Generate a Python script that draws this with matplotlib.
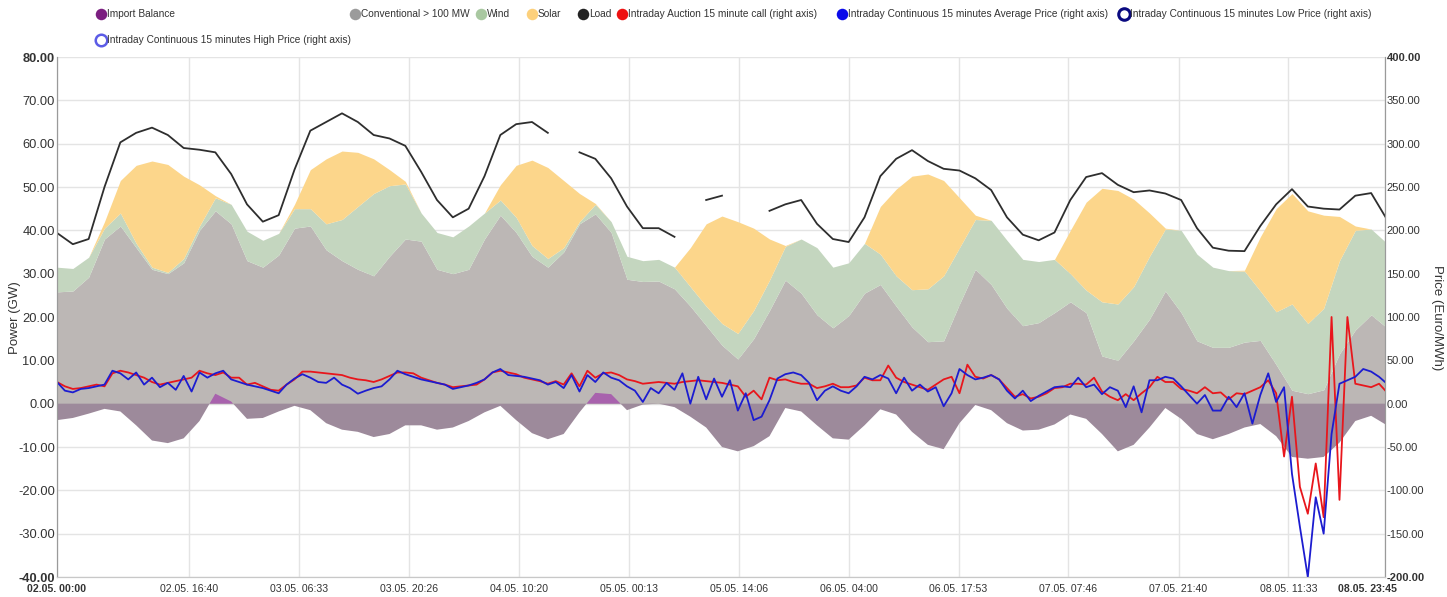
import numpy as np
import matplotlib
matplotlib.use("Agg")
import matplotlib.pyplot as plt
from matplotlib.lines import Line2D
from matplotlib.transforms import ScaledTranslation

nan = float("nan")

# ---------------- data ----------------
step_areas_h = 2.0   # sampling of power series (hours)
step_price_h = 1.0   # sampling of price series (hours)

conventional = [25.8, 26, 29.2, 38, 41, 36, 31, 30, 32.5, 40, 44.5, 41.5, 33, 31.5, 34.3, 40.5, 41, 35.5,
                33, 31, 29.5, 34, 38, 37.5, 31, 30, 31, 38, 43.5, 39.5, 34, 31.5, 35, 41.5, 43.8, 39.5,
                28.7, 28.2, 28.3, 26.5, 22.5, 18, 13.5, 10.3, 15, 21.5, 28.5, 25.5, 20.5, 17.5, 20.3, 25.5,
                27.5, 22.5, 17.7, 14.3, 14.5, 23, 31, 27.5, 22, 18, 18.7, 21, 23.5, 21, 11, 10, 14.5, 19.5,
                26, 21, 14.5, 13, 13, 14.2, 14.6, 9, 3.1, 2.3, 3.2, 11.5, 17, 20.5, 17.5]
wind = [5.7, 5.2, 4.6, 2.5, 3, 1, 0.5, 0.3, 1, 1, 3, 4.5, 6.8, 6.2, 5, 4.5, 4, 6, 9.5, 14.5, 19, 16.3,
        12.7, 6.5, 8.5, 8.5, 10, 6, 3.5, 3.5, 2.5, 2, 1, 0.5, 2.2, 2.5, 5.3, 4.8, 5, 5, 4.5, 4.5, 5, 5.9,
        6.5, 7, 7.8, 12.5, 15.5, 14, 12.2, 11.5, 7, 7, 8.6, 12.2, 15, 13, 11.5, 14.8, 15.7, 15.3, 14.1,
        12.3, 6.5, 5.2, 12.5, 13, 12.5, 14.5, 14.3, 19, 20, 18.5, 17.7, 16.4, 11.4, 12.2, 19.9, 16.2,
        18.8, 21.5, 23, 19.8, 19.5]
solar = [0, 0, 0, 1.5, 7.5, 18, 24.5, 24.9, 19, 9.5, 0.5, 0, 0, 0, 0, 1, 9, 15, 15.8, 12.5, 8, 3.7, 0.6,
         0, 0, 0, 0, 0, 3.5, 12, 19.7, 21, 15.5, 6.5, 0.2, 0, 0, 0, 0, 0, 9, 19, 24.8, 25.8, 19, 9.5, 0.2,
         0, 0, 0, 0, 0, 11, 20, 26.2, 26.5, 22, 11.5, 1, 0, 0, 0, 0, 0, 10, 20.3, 26.2, 26.2, 20.2, 10,
         0.2, 0, 0, 0, 0, 0.2, 12.5, 23.8, 25.5, 26, 21.5, 10.2, 1, 0, 0]
load = [39.4, 36.8, 38, 50, 60.3, 62.5, 63.7, 62, 59, 58.6, 58, 53, 46, 42, 43.5, 54, 63, 65, 67, 65, 62,
        61.2, 59.5, 53.5, 47, 43, 45, 52.5, 62, 64.5, 65, 62.5, nan, 58, 56.5, 52, 45.5, 40.5, 40.5,
        38.5, nan, 47, 48, nan, nan, 44.5, 46, 47, 41.5, 38, 37.3, 43, 52.5, 56.5, 58.5, 56, 54.2, 53.8,
        52, 49.3, 43, 39, 37.7, 39.5, 47, 52.3, 53.2, 50.5, 48.8, 49.2, 48.5, 47, 40.5, 36, 35.3, 35.2,
        41, 46, 49.5, 45.5, 45, 44.8, 48, 48.6, 42.5]
import_balance = [-3.8, -3.3, -2.3, -1.2, -1.8, -5, -8.5, -9.1, -8, -4, 2.3, 0.5, -3.5, -3.3, -1.8, -0.5,
                  -1.5, -4.5, -6, -6.5, -7.7, -7, -5, -5, -6, -5.5, -4, -2, -0.5, -3.8, -6.8, -8.2, -7, -2,
                  2.5, 2.2, -1.5, -0.2, 0, -0.8, -3, -5.5, -10, -11, -9.8, -7.5, -1, -1.8, -5, -8, -8.3,
                  -5, -1.3, -2.5, -6.5, -9.5, -10.5, -4.5, -0.3, -1.5, -4.5, -6.2, -6, -4.8, -2.5, -3.5,
                  -7, -11, -9.5, -5.5, -1, -3.5, -7, -8.2, -7, -5.5, -4.7, -7.5, -12.3, -12.7, -12.3, -9,
                  -4, -2.8, -5]

price_avg = [25, 15, 13, 17, 18, 20, 22, 38, 35, 28,
             36, 22, 30, 19, 24, 16, 32, 14, 36, 30,
             35, 38, 28, 25, 22, 20, 18, 15, 12, 22,
             29, 34, 30, 25, 24, 30, 22, 18, 11.5, 15,
             18, 20, 28, 38, 34, 31, 28, 26, 24, 22,
             17, 19, 21, 24, 28, 36, 40, 33, 32, 31,
             29, 27, 22, 25, 18, 33, 14, 33, 25, 36,
             30, 27, 20, 15, 2, 18, 12, 24, 16, 35,
             0, 31, 5, 29, 8, 27, -8, 12, -19, -15,
             4, 29, 34, 36, 33, 24, 4, 15, 20, 15,
             12, 20, 31, 28, 33, 29, 12, 30, 15, 22,
             14, 19, -3, 12, 40, 33, 28, 30, 33, 28,
             15, 6, 15, 3, 9, 14, 19, 20, 19, 30,
             19, 22, 11, 19, 15, -4, 20, -10, 27, 27,
             31, 29, 20, 10, 0, 10, -8, -8, 8, -4,
             12, -23, 10, 35, 2, 19, -81, -142, -200, -108,
             -150, -35, 23, 27, 31, 40, 37, 31, 23]
price_auction = [25, 20, 17, 18, 20, 22, 20, 35, 38, 36,
                 33, 30, 25, 22, 24, 26, 28, 30, 38, 35,
                 33, 36, 30, 30, 22, 24, 20, 16, 15, 22,
                 28, 37, 37, 36, 35, 34, 33, 30, 28, 27,
                 25, 28, 32, 36, 36, 35, 30, 27, 24, 22,
                 19, 20, 21, 22, 28, 36, 38, 36, 34, 30,
                 28, 26, 23, 26, 22, 35, 20, 38, 30, 35,
                 36, 33, 28, 26, 23, 24, 25, 24, 23, 25,
                 26, 27, 26, 25, 24, 22, 20, 8, 15, 5,
                 30, 27, 28, 25, 23, 23, 18, 20, 23, 19,
                 19, 21, 30, 27, 27, 44, 30, 25, 22, 19,
                 16, 22, 28, 31, 12, 45, 31, 29, 33, 28,
                 18, 8, 11, 6, 8, 12, 18, 19, 23, 23,
                 22, 30, 14, 8, 4, 11, 4, 12, 19, 31,
                 25, 25, 17, 15, 12, 19, 12, 13, 5, 12,
                 11, 15, 19, 27, 12, -61, 8, -96, -127, -69,
                 -131, 100, -111, 100, 23, 21, 19, 23, 13]

x_tick_labels = ["02.05. 00:00", "02.05. 16:40", "03.05. 06:33", "03.05. 20:26", "04.05. 10:20",
                 "05.05. 00:13", "05.05. 14:06", "06.05. 04:00", "06.05. 17:53", "07.05. 07:46",
                 "07.05. 21:40", "08.05. 11:33", "08.05. 23:45"]
left_ticks = [-40, -30, -20, -10, 0, 10, 20, 30, 40, 50, 60, 70, 80]
right_ticks = [-200, -150, -100, -50, 0, 50, 100, 150, 200, 250, 300, 350, 400]

legend_row1 = ["Import Balance", "Conventional > 100 MW", "Wind", "Solar", "Load",
               "Intraday Auction 15 minute call (right axis)",
               "Intraday Continuous 15 minutes Average Price (right axis)",
               "Intraday Continuous 15 minutes Low Price (right axis)"]
legend_row2 = ["Intraday Continuous 15 minutes High Price (right axis)"]

# ---------------- style ----------------
C_CONV = "#bcb7b5"
C_WIND = "#c4d6bf"
C_SOLAR = "#fcd68b"
C_IMP_NEG = "#9d8a9b"
C_IMP_POS = "#a862ad"
C_LOAD = "#2e2e2e"
C_RED = "#e8161c"
C_BLUE = "#1c1cd0"
GRID = "#e4e4e4"
TXT = "#333333"
plt.rcParams["font.family"] = ["Liberation Sans", "DejaVu Sans"]

W, H = 1447, 597
fig = plt.figure(figsize=(W / 100, H / 100), dpi=100)
L, R, T, B = 57, 1385, 57, 577
ax = fig.add_axes([L / W, 1 - B / H, (R - L) / W, (B - T) / H])

conv = np.array(conventional)
wnd = np.array(wind)
sol = np.array(solar)
imp = np.array(import_balance)
t_a = np.arange(len(conv)) * step_areas_h
t_p = np.arange(len(price_avg)) * step_price_h

ax.fill_between(t_a, 0, conv, color=C_CONV, lw=0)
ax.fill_between(t_a, conv, conv + wnd, color=C_WIND, lw=0)
ax.fill_between(t_a, conv + wnd, conv + wnd + sol, color=C_SOLAR, lw=0)
ax.fill_between(t_a, 0, imp, where=imp < 0, interpolate=True, color=C_IMP_NEG, lw=0)
ax.fill_between(t_a, 0, imp, where=imp > 0, interpolate=True, color=C_IMP_POS, lw=0)
ax.plot(t_a, load, color=C_LOAD, lw=1.3)


def to_hours(s):
    day = int(s[0:2])
    hh, mm = s.split()[1].split(":")
    return (day - 2) * 24 + int(hh) + int(mm) / 60.0


xt = [to_hours(s) for s in x_tick_labels]
ax.set_xlim(xt[0], xt[-1])
ax.set_ylim(left_ticks[0], left_ticks[-1])
ax.set_xticks(xt)
ax.set_xticklabels(x_tick_labels, fontsize=7.6, color=TXT)
ax.set_yticks(left_ticks)
ax.set_yticklabels([f"{v:.2f}" for v in left_ticks], fontsize=9.3, color=TXT)
ax.grid(True, color=GRID, lw=1)
ax.set_axisbelow(True)
ax.tick_params(axis="y", length=0, pad=1.5)
ax.tick_params(axis="x", length=0, pad=5)

ax2 = ax.twinx()
ax2.set_ylim(right_ticks[0], right_ticks[-1])
ax2.plot(t_p, price_auction, color=C_RED, lw=1.3)
ax2.plot(t_p, price_avg, color=C_BLUE, lw=1.3)
ax2.set_yticks(right_ticks)
ax2.set_yticklabels([f"{v:.2f}" for v in right_ticks], fontsize=8, color=TXT)
ax2.tick_params(axis="y", length=0, pad=1)

for a in (ax, ax2):
    a.spines["top"].set_visible(False)
    a.spines["left"].set_color("#9a9a9a")
    a.spines["right"].set_color("#9a9a9a")
    a.spines["bottom"].set_color("#c8c8c8")

for lbls in (ax.get_yticklabels(), ax2.get_yticklabels(), ax.get_xticklabels()):
    lbls[0].set_fontweight("bold")
    lbls[-1].set_fontweight("bold")
last = ax.get_xticklabels()[-1]
last.set_transform(last.get_transform() + ScaledTranslation(-0.18, 0, fig.dpi_scale_trans))

fig.text(15 / W, 1 - 318 / H, "Power (GW)", rotation=90, ha="center", va="center",
         fontsize=9.5, color=TXT)
fig.text(1437 / W, 1 - 318 / H, "Price (Euro/MWh)", rotation=-90, ha="center", va="center",
         fontsize=9.5, color=TXT)

# ---------------- legend (manual) ----------------
leg_style = [
    dict(mfc="#7b1f80", mec="#7b1f80"),
    dict(mfc="#9b9b9b", mec="#9b9b9b"),
    dict(mfc="#a9c8a1", mec="#a9c8a1"),
    dict(mfc="#fcd07c", mec="#fcd07c"),
    dict(mfc="#222222", mec="#222222"),
    dict(mfc="#ee1111", mec="#ee1111"),
    dict(mfc="#0b0bea", mec="#0b0bea"),
    dict(mfc="white", mec="#0a0a80", mew=2.2),
]
row1_x = [101, 355, 481, 532, 583, 622, 842, 1124]
for name, xm, st in zip(legend_row1, row1_x, leg_style):
    st = dict(st)
    mew = st.pop("mew", 0)
    fig.add_artist(Line2D([xm / W], [1 - 14 / H], marker="o", ms=8.3, mew=mew, ls="none",
                          transform=fig.transFigure, **st))
    fig.text((xm + 6) / W, 1 - 14 / H, name, ha="left", va="center", fontsize=7.3, color=TXT)
fig.add_artist(Line2D([101 / W], [1 - 40 / H], marker="o", ms=8.3, mew=1.8, ls="none",
                      mfc="white", mec="#5c5ce6", transform=fig.transFigure))
fig.text(107 / W, 1 - 40 / H, legend_row2[0], ha="left", va="center", fontsize=7.3, color=TXT)

fig.savefig("out.png", dpi=100)
